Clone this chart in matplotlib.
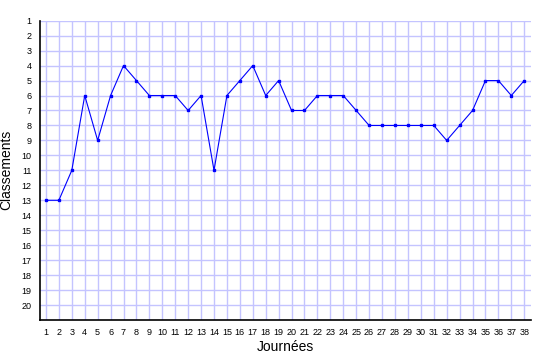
import matplotlib
matplotlib.use("Agg")
import matplotlib.pyplot as plt

plt.rcParams['font.family'] = ['Liberation Sans', 'DejaVu Sans']

journees = list(range(1, 39))
classements = [13, 13, 11, 6, 9, 6, 4, 5, 6, 6,
               6, 7, 6, 11, 6, 5, 4, 6, 5, 7,
               7, 6, 6, 6, 7, 8, 8, 8, 8, 8,
               8, 9, 8, 7, 5, 5, 6, 5]
rangs = list(range(1, 21))

fig = plt.figure(figsize=(5.35, 3.6), dpi=100)
ax = fig.add_axes([40/535, 40/360, 490.7/535, 299.3/360])

ax.plot(journees, classements, color='#0000ff', linewidth=0.8,
        marker='s', markersize=2.0, zorder=3)

ax.set_xlim(0.54, 38.5)
ax.set_ylim(21, 1)
ax.set_xticks(journees)
ax.set_yticks(rangs)
ax.tick_params(axis='both', length=0, labelsize=6.5, pad=6)
ax.grid(True, color='#c4c4ff', linewidth=1.0)
ax.set_axisbelow(True)

for side in ('top', 'right'):
    ax.spines[side].set_visible(False)
for side in ('left', 'bottom'):
    ax.spines[side].set_color('black')
    ax.spines[side].set_linewidth(1.2)

ax.set_xlabel('Journées', fontsize=10, labelpad=2)
ax.set_ylabel('Classements', fontsize=10, labelpad=6)

fig.savefig('out.png', dpi=100)
